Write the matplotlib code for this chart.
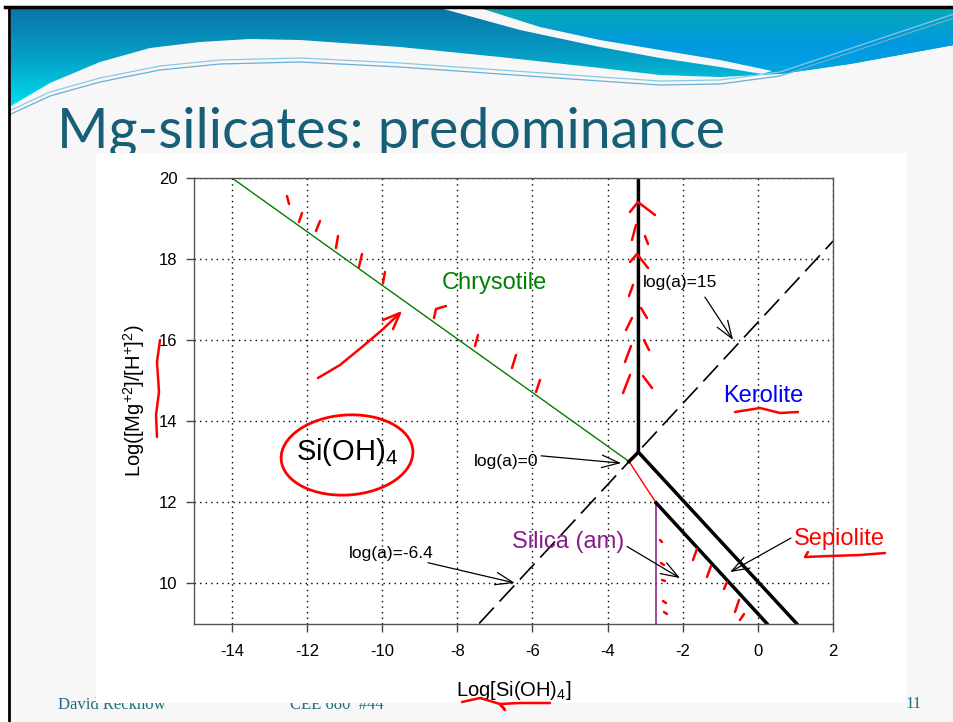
import numpy as np
import matplotlib.pyplot as plt
from matplotlib.patches import Polygon, Rectangle, Ellipse
from matplotlib.colors import LinearSegmentedColormap

plt.rcParams['font.family'] = ['Liberation Sans', 'DejaVu Sans']
plt.rcParams['mathtext.fontset'] = 'custom'
plt.rcParams['mathtext.rm'] = 'Liberation Sans'
plt.rcParams['axes.unicode_minus'] = False

# ---- chart data ----
chrysotile_x = [-14.0, -3.43]
chrysotile_y = [20.0, 13.0]
silica_edge_x = [-3.43, -2.71]
silica_edge_y = [13.0, 11.98]
sep_low_x = [-2.71, 0.24]
sep_low_y = [11.98, 9.0]
silica_am_x = [-2.71, -2.71]
silica_am_y = [9.0, 11.98]
kerolite_x = [-3.18, -3.18, -3.43]
kerolite_y = [20.0, 13.23, 13.0]
sep_high_x = [-3.18, 1.03]
sep_high_y = [13.23, 9.0]
loga_x = [-7.42, 2.0]
loga_y = [9.0, 18.44]

xticks = [-14, -12, -10, -8, -6, -4, -2, 0, 2]
yticks = [10, 12, 14, 16, 18, 20]

# labels: text, text position, arrow tail, arrow tip
loga_labels = ['log(a)=-6.4', 'log(a)=0', 'log(a)=15']
loga_text_xy = [(-9.77, 10.74), (-6.7, 13.01), (-2.07, 17.41)]
loga_tail = [(-8.78, 10.5), (-5.77, 13.14), (-1.41, 17.06)]
loga_tip = [(-6.47, 10.0), (-3.64, 12.96), (-0.66, 16.0)]

# slide decoration (pixel coordinates)
wave_x = [11, 50, 100, 150, 200, 250, 300, 400, 500, 600, 660, 720, 780, 850, 954]
wave_y = [106, 83, 62, 48, 42, 39, 40, 47, 57, 68, 75, 77, 74, 64, 45]
sliver_top_x = [480, 540, 600, 660, 720, 772]
sliver_top_y = [8, 27, 40, 50, 60, 71]
sliver_bot_x = [440, 520, 600, 660, 720, 762]
sliver_bot_y = [8, 30, 47, 58, 67, 74]
thin_x = [11, 50, 100, 160, 220, 300, 400, 500, 600, 660, 720, 780, 840, 900, 954]
thin_y = [110, 92, 78, 66, 60, 58, 63, 70, 77, 81, 80, 72, 52, 32, 14]

# hand drawn red ink (pixel coordinates)
ink = [
    ([318, 340, 362, 382, 399], [378, 365, 347, 330, 314]),
    ([383, 400, 393], [320, 313, 329]),
    ([287, 289], [196, 204]), ([302, 299], [213, 222]), ([320, 316], [221, 231]),
    ([338, 336], [236, 248]), ([362, 359], [254, 267]), ([385, 383], [272, 283]),
    ([446, 436, 434], [306, 309, 318]), ([478, 475], [335, 346]),
    ([516, 512], [355, 368]), ([540, 536], [380, 392]),
    ([630, 638, 655], [212, 202, 215]), ([636, 632], [225, 240]), ([645, 648], [236, 244]),
    ([630, 637, 648], [262, 254, 268]), ([633, 629], [285, 296]), ([641, 647], [308, 318]),
    ([626, 632], [330, 318]), ([644, 649], [340, 350]), ([625, 631], [362, 346]),
    ([643, 652], [376, 388]), ([623, 630], [393, 375]),
    ([735, 760, 780, 798], [412, 408, 413, 412]),
    ([808, 805, 830, 860, 885], [552, 557, 556, 555, 553]),
    ([462, 480, 500, 505, 500, 520, 550], [702, 698, 704, 710, 704, 703, 703]),
    ([160, 157, 159, 156, 157], [340, 362, 392, 415, 437]),
    ([660, 662], [540, 542]), ([661, 664], [563, 565]), ([662, 665], [580, 581]),
    ([663, 666], [601, 603]), ([664, 667], [612, 614]),
    ([693, 697], [560, 549]), ([707, 711], [577, 566]), ([724, 727], [589, 582]),
    ([735, 739], [612, 600]), ([740, 744], [620, 614]),
]

fig = plt.figure(figsize=(9.54, 7.22), dpi=100)

# background / slide layer
bg = fig.add_axes([0, 0, 1, 1], zorder=0)
bg.set_xlim(0, 954)
bg.set_ylim(722, 0)
bg.axis('off')
bg.add_patch(Rectangle((10, 7), 944, 715, fc='#f7f7f7', ec='none'))

grad_left = LinearSegmentedColormap.from_list('gl', ['#0a74a8', '#05a2c8', '#00e4f0'])
grad_right = LinearSegmentedColormap.from_list('gr', ['#08a9b6', '#0098e0', '#00a8e2'])
g = np.linspace(0, 1, 200).reshape(-1, 1)

poly_left = Polygon(list(zip([11, 954], [8, 8])) + list(zip(wave_x[::-1], wave_y[::-1])),
                    closed=True, fc='none', ec='none')
bg.add_patch(poly_left)
im = bg.imshow(g, cmap=grad_left, extent=(11, 954, 110, 8), aspect='auto', zorder=1)
im.set_clip_path(poly_left)

right_pts = list(zip(sliver_top_x, sliver_top_y))[::-1]
right_pts = [(954, 8)] + [(954, 45)] + list(zip([850, 780], [64, 74])) + right_pts
poly_right = Polygon(right_pts, closed=True, fc='none', ec='none')
bg.add_patch(poly_right)
im2 = bg.imshow(g, cmap=grad_right, extent=(11, 954, 80, 8), aspect='auto', zorder=1)
im2.set_clip_path(poly_right)

sliver = Polygon(list(zip(sliver_top_x, sliver_top_y)) + list(zip(sliver_bot_x, sliver_bot_y))[::-1],
                 closed=True, fc='#f7f7f7', ec='none', zorder=2)
bg.add_patch(sliver)

bg.plot(thin_x, thin_y, color='#8cc8e6', lw=0.9, zorder=3)
bg.plot(thin_x, np.array(thin_y) + 4, color='#6aaed9', lw=0.9, zorder=3)

bg.plot([5, 954], [7, 7], color='black', lw=2.5, zorder=4)
bg.plot([9, 9], [7, 722], color='black', lw=2, zorder=4)

bg.text(57, 148, 'Mg-silicates: predominance', fontsize=40, family='Lato',
        color='#175f77', va='baseline', zorder=3)
bg.text(58, 709, 'David Reckhow', fontsize=12, family='Liberation Serif',
        color='#1f6e80', va='baseline', zorder=3)
bg.text(290, 709, 'CEE 680  #44', fontsize=12, family='Liberation Serif',
        color='#1f6e80', va='baseline', zorder=3)
bg.text(905, 708, '11', fontsize=12, family='Liberation Serif',
        color='#1f6e80', va='baseline', zorder=3)

bg.add_patch(Rectangle((96, 153), 810, 550, fc='white', ec='none', zorder=5))

# chart
ax = fig.add_axes([194.4 / 954, 98.5 / 722, 638.6 / 954, 445.5 / 722], zorder=2)
ax.set_xlim(-15, 2)
ax.set_ylim(9, 20)
ax.set_xticks(xticks)
ax.set_yticks(yticks)
ax.tick_params(direction='out', length=6, width=1, labelsize=12, color='#444444')
ax.tick_params(axis='x', pad=9)
ax.tick_params(axis='y', pad=6)
ax.grid(True, color='black', linestyle=(0, (1, 3)), lw=1)
for s in ax.spines.values():
    s.set_color('#555555')
    s.set_linewidth(1)

ax.plot(chrysotile_x, chrysotile_y, color='#008000', lw=1)
ax.plot(silica_edge_x, silica_edge_y, color='red', lw=1)
ax.plot(silica_am_x, silica_am_y, color='#8b2a8b', lw=1.2)
ax.plot(kerolite_x, kerolite_y, color='black', lw=2.5)
ax.plot(sep_high_x, sep_high_y, color='black', lw=2.5)
ax.plot(sep_low_x, sep_low_y, color='black', lw=2.5)
ax.plot(loga_x, loga_y, color='black', lw=1.2, linestyle=(0, (13, 5)))

arrow = dict(arrowstyle='->,head_length=0.7,head_width=0.25', color='black', lw=0.9,
             shrinkA=0, shrinkB=0, mutation_scale=18)
for lab, txy, tail, tip in zip(loga_labels, loga_text_xy, loga_tail, loga_tip):
    ax.text(txy[0], txy[1], lab, fontsize=12.5, ha='center', va='center')
    ax.annotate('', xy=tip, xytext=tail, arrowprops=arrow)

ax.text(-7.02, 17.41, 'Chrysotile', fontsize=17, color='#008000', ha='center', va='center')
ax.text(0.14, 14.62, 'Kerolite', fontsize=17, color='blue', ha='center', va='center')
ax.text(2.17, 11.09, 'Sepiolite', fontsize=17, color='red', ha='center', va='center', clip_on=False)
ax.text(-5.05, 11.01, 'Silica (am)', fontsize=17, color='#8b1a8b', ha='center', va='center')
ax.text(-10.94, 13.23, 'Si(OH)$_\\mathregular{4}$', fontsize=21, ha='center', va='center')
ax.annotate('', xy=(-2.07, 10.12), xytext=(-3.48, 10.9), arrowprops=arrow)
ax.annotate('', xy=(-0.74, 10.27), xytext=(0.88, 11.11), arrowprops=arrow)

ax.set_xlabel('Log[Si(OH)$_\\mathregular{4}$]', fontsize=14.5, labelpad=14)
ax.set_ylabel('Log([Mg$^\\mathregular{+2}$]/[H$^\\mathregular{+}$]$^\\mathregular{2}$)', fontsize=14.5, labelpad=9)

# red ink layer
fg = fig.add_axes([0, 0, 1, 1], zorder=3)
fg.set_xlim(0, 954)
fg.set_ylim(722, 0)
fg.axis('off')
fg.patch.set_alpha(0)
fg.add_patch(Ellipse((347, 455), 132, 80, angle=-4, fill=False, ec='red', lw=2))
for xs, ys in ink:
    fg.plot(xs, ys, color='red', lw=1.8, solid_capstyle='round')

fig.savefig('out.png', dpi=100)
